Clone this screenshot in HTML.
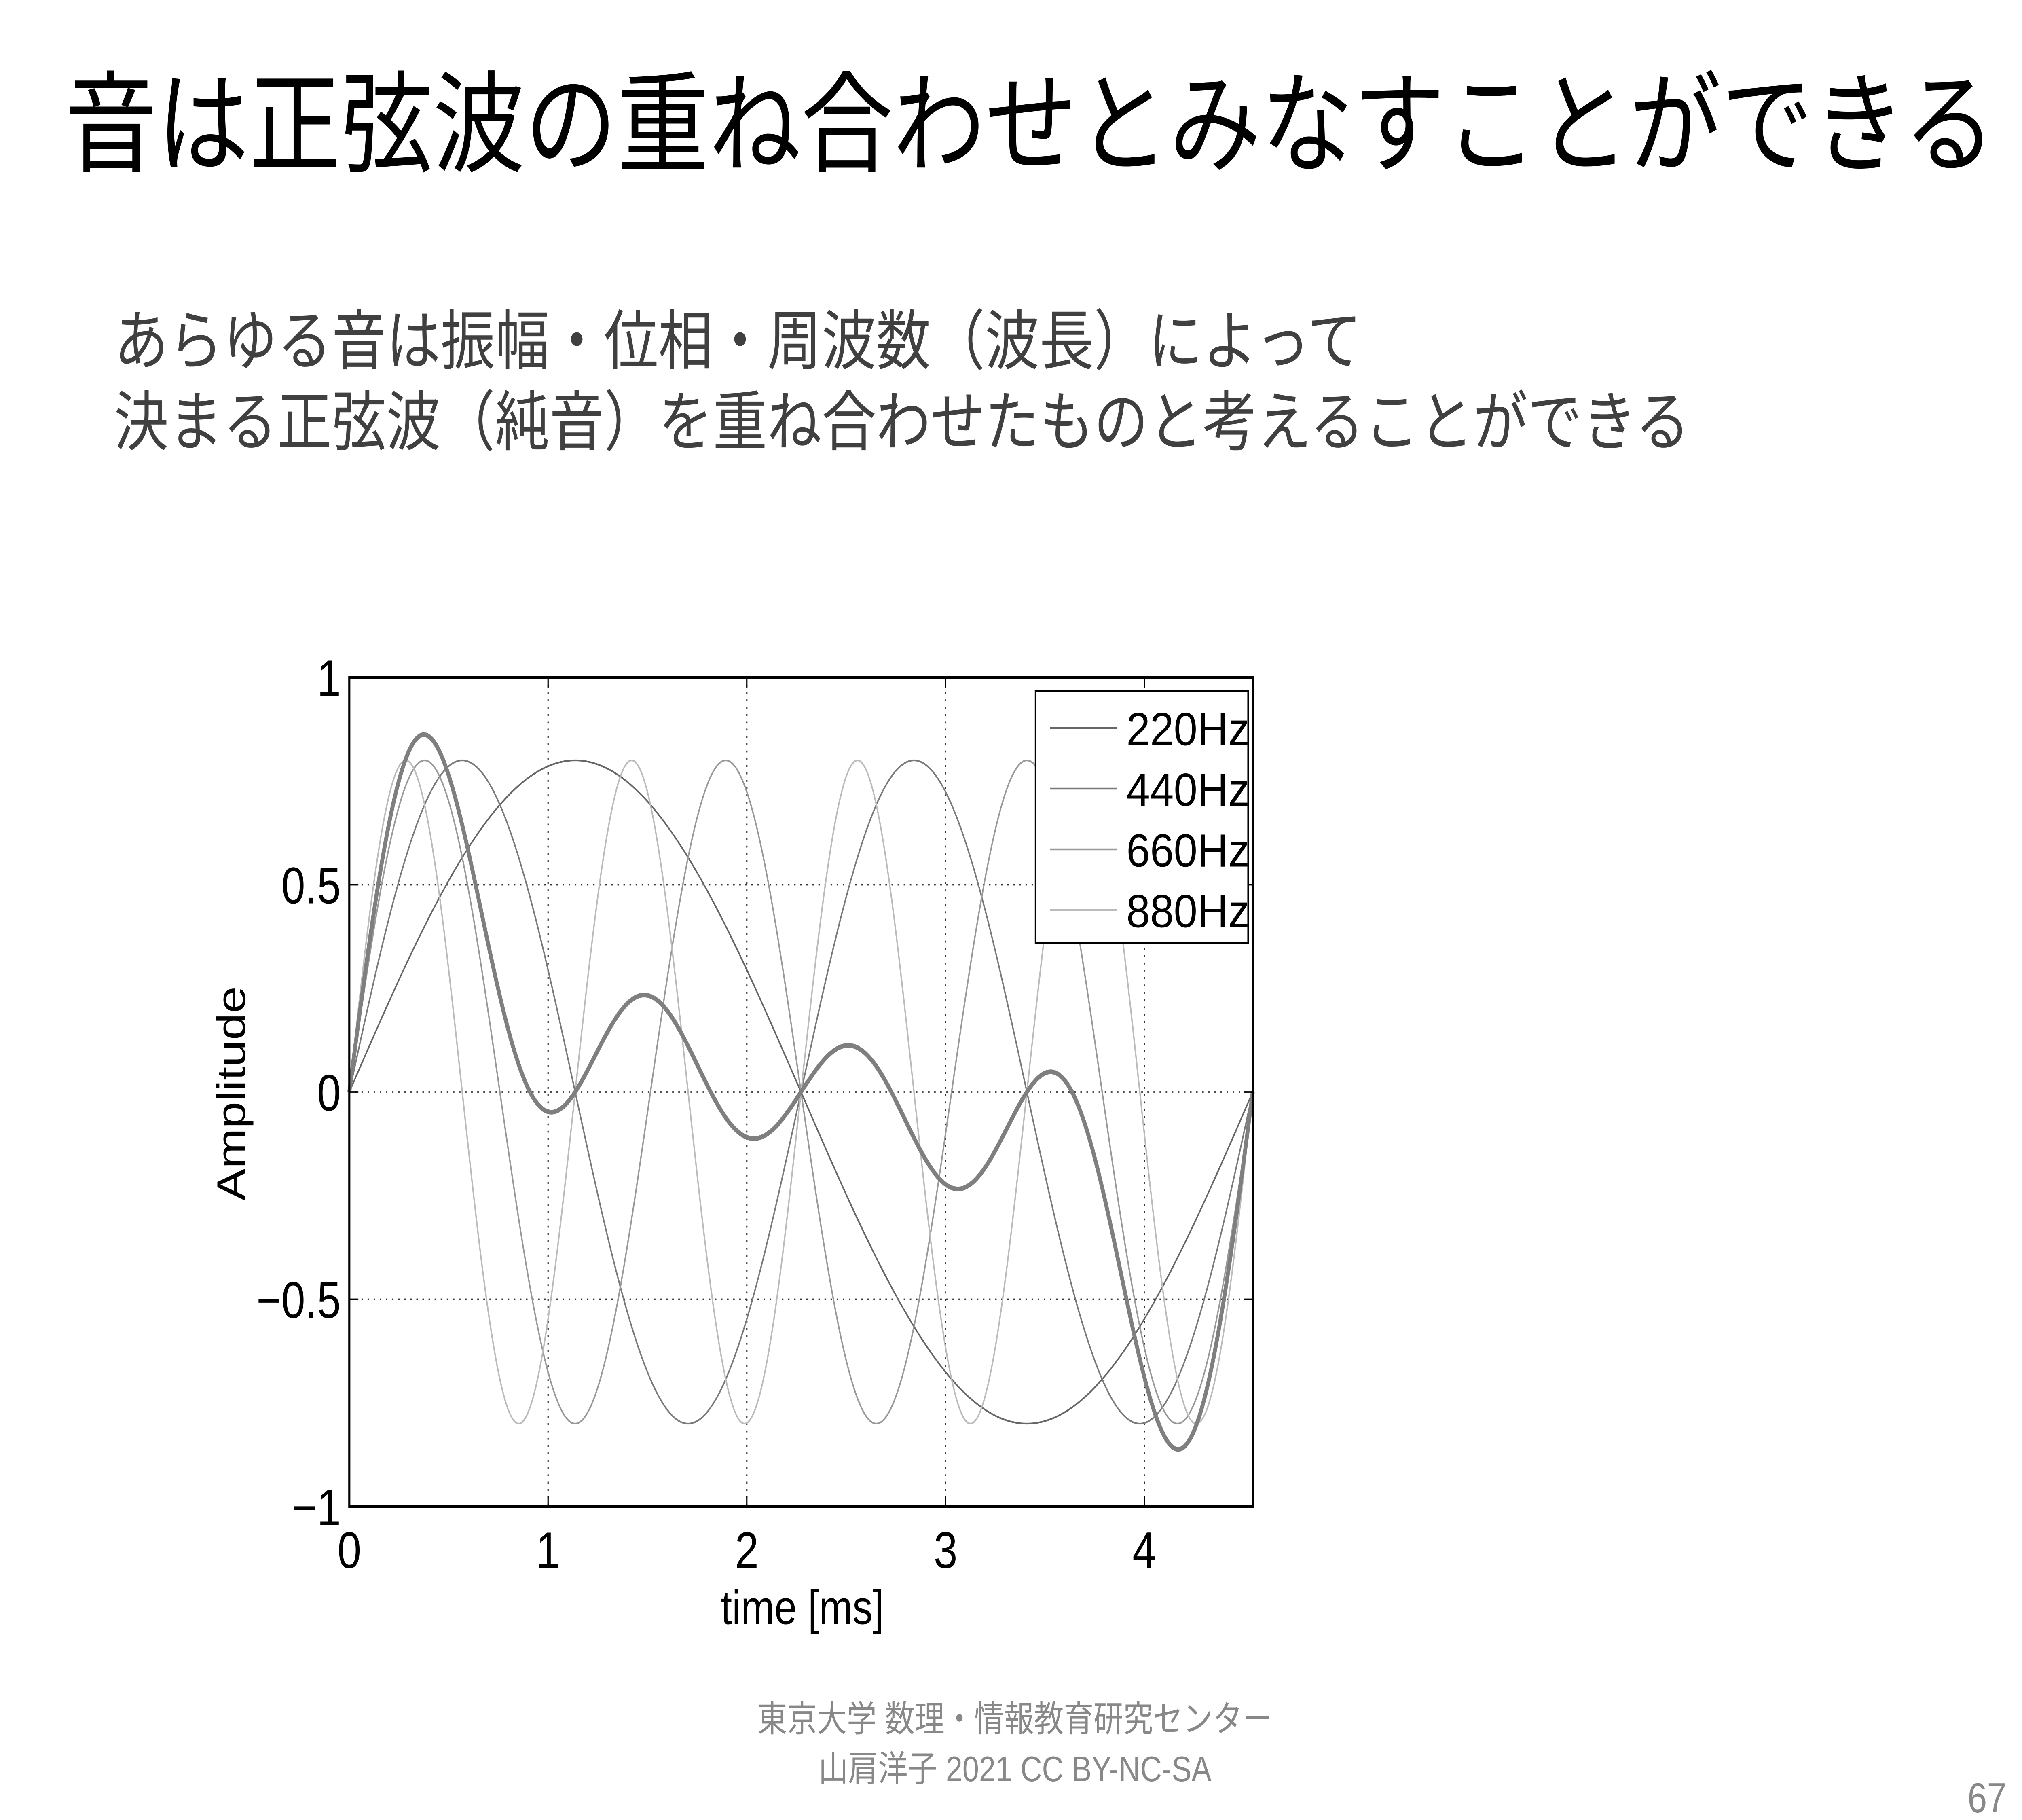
<!DOCTYPE html>
<html><head><meta charset="utf-8">
<style>
html,body{margin:0;padding:0;background:#fff;overflow:hidden;}
svg{display:block;width:100vw;height:100vh;position:absolute;left:0;top:0;}
.jp{font-family:"Liberation Sans","Noto Sans CJK JP",sans-serif;}
.ax{font-family:"Liberation Sans",sans-serif;}
</style></head>
<body>
<svg id="s" viewBox="0 0 1560 1170" preserveAspectRatio="none" xmlns="http://www.w3.org/2000/svg">
<rect width="1560" height="1170" fill="#fff"/>
<text class="jp" x="50" y="105" font-size="71" fill="#000">音は正弦波の重ね合わせとみなすことができる</text>
<text class="jp" x="88" y="234" font-size="42" fill="#404040">あらゆる音は振幅・位相・周波数（波長）によって</text>
<text class="jp" x="88" y="286" font-size="42" fill="#404040">決まる正弦波（純音）を重ね合わせたものと考えることができる</text>
<g id="chart"></g>
<text class="jp" x="783" y="1113" font-size="23" fill="#888" text-anchor="middle">東京大学 数理・情報教育研究センター</text>
<text class="jp" x="783" y="1145" font-size="23" fill="#888" text-anchor="middle">山肩洋子 2021 CC BY-NC-SA</text>
<text class="ax" x="1548" y="1165" font-size="27" fill="#888" text-anchor="end">67</text>
</svg>
<script>
const freqs = [220, 440, 660, 880];
const amps = [0.8, 0.8, 0.8, 0.8];
const seriesLabels = ['220Hz', '440Hz', '660Hz', '880Hz'];
const seriesColors = ['#666', '#7a7a7a', '#999', '#bbb'];
const sumDivisor = 3;
const xTicks = [0, 1, 2, 3, 4];
const yTicks = [1, 0.5, 0, -0.5, -1];
const yTickLabels = ['1', '0.5', '0', '\u22120.5', '\u22121'];
const xMaxMs = 1000 / 220;

const NS = 'http://www.w3.org/2000/svg';
const g = document.getElementById('chart');
const L = 269.5, R = 966.5, T = 435.5, B = 968.5;
const sx = v => L + (v / xMaxMs) * (R - L);
const sy = v => T + (1 - v) / 2 * (B - T);
function mk(tag, attrs, parent) {
  const e = document.createElementNS(NS, tag);
  for (const k in attrs) e.setAttribute(k, attrs[k]);
  (parent || g).appendChild(e);
  return e;
}
xTicks.forEach(v => {
  if (v === 0) return;
  const e = mk('line', {x1: sx(v), x2: sx(v), y1: T, y2: B, stroke: '#333', 'stroke-width': 1, 'stroke-dasharray': '1.2 3.5'});
  
  
});
yTicks.forEach(v => {
  if (v === 1 || v === -1) return;
  const e = mk('line', {x1: L, x2: R, y1: sy(v), y2: sy(v), stroke: '#333', 'stroke-width': 1, 'stroke-dasharray': '1.2 3.5'});
  
  
});
const N = 1400;
function wave(i, t) { return amps[i] * Math.sin(2 * Math.PI * freqs[i] * t / 1000); }
freqs.forEach((f, i) => {
  let d = '';
  for (let k = 0; k <= N; k++) {
    const t = xMaxMs * k / N;
    d += (k ? 'L' : 'M') + sx(t).toFixed(2) + ',' + sy(wave(i, t)).toFixed(2);
  }
  const p = mk('path', {d: d, fill: 'none', stroke: seriesColors[i], 'stroke-width': 1.1});
  
  
});
{
  let d = '';
  for (let k = 0; k <= N; k++) {
    const t = xMaxMs * k / N;
    let s = 0;
    for (let i = 0; i < freqs.length; i++) s += wave(i, t);
    d += (k ? 'L' : 'M') + sx(t).toFixed(2) + ',' + sy(s / sumDivisor).toFixed(2);
  }
  const p = mk('path', {d: d, fill: 'none', stroke: '#7f7f7f', 'stroke-width': 3});
  
  
}
const box = mk('rect', {x: L, y: T, width: R - L, height: B - T, fill: 'none', stroke: '#000', 'stroke-width': 1.6});


xTicks.forEach(v => {
  mk('line', {x1: sx(v), x2: sx(v), y1: B, y2: B - 7, stroke: '#000', 'stroke-width': 1});
  mk('line', {x1: sx(v), x2: sx(v), y1: T, y2: T + 7, stroke: '#000', 'stroke-width': 1});
  const t = mk('text', {x: sx(v), y: 1008, 'font-size': 33, 'text-anchor': 'middle', fill: '#000', class: 'ax'});
  t.textContent = String(v);
  
  
});
yTicks.forEach((v, i) => {
  mk('line', {x1: L, x2: L + 7, y1: sy(v), y2: sy(v), stroke: '#000', 'stroke-width': 1});
  mk('line', {x1: R, x2: R - 7, y1: sy(v), y2: sy(v), stroke: '#000', 'stroke-width': 1});
  const t = mk('text', {x: 263, y: sy(v) + 12, 'font-size': 33, 'text-anchor': 'end', fill: '#000', class: 'ax'});
  t.textContent = yTickLabels[i];
  
  
});
const xt = mk('text', {x: 619, y: 1044, 'font-size': 31, 'text-anchor': 'middle', fill: '#000', class: 'ax'});
xt.textContent = 'time [ms]';


const yt = mk('text', {x: 0, y: 0, 'font-size': 31, 'text-anchor': 'middle', fill: '#000', class: 'ax', transform: 'translate(189,703) rotate(-90)'});
yt.textContent = 'Amplitude';


const lg = mk('g', {});


mk('rect', {x: 799, y: 444, width: 164, height: 162, fill: '#fff', stroke: '#000', 'stroke-width': 1.3}, lg);
seriesLabels.forEach((lab, i) => {
  const y = 468 + i * 39;
  const ln = mk('line', {x1: 810, x2: 862, y1: y, y2: y, stroke: seriesColors[i], 'stroke-width': 1.2}, lg);
  
  
  const t = mk('text', {x: 869, y: y + 11, 'font-size': 30, fill: '#000', class: 'ax', textLength: 95, lengthAdjust: 'spacingAndGlyphs'}, lg);
  t.textContent = lab;
  
  
});
</script>
</body></html>
